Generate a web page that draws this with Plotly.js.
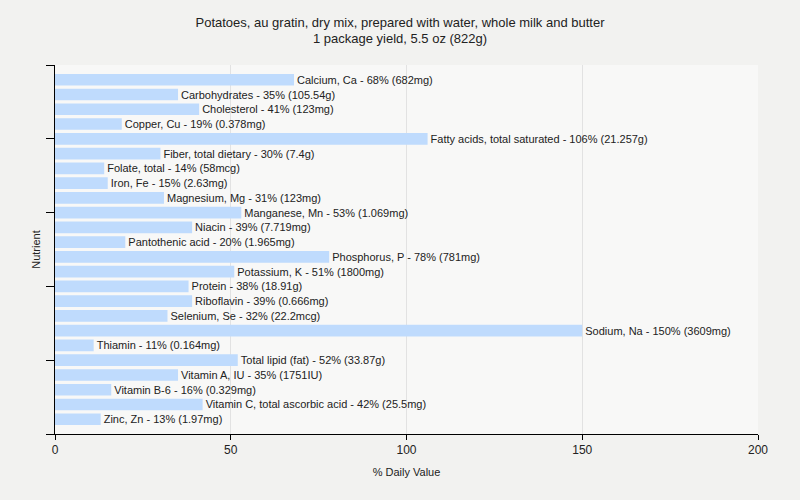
<!DOCTYPE html>
<html>
<head>
<meta charset="utf-8">
<script src="https://cdn.plot.ly/plotly-3.0.1.min.js"></script>
<style>html,body{margin:0;padding:0;background:#f2f2f0;}#chart{width:800px;height:500px;}</style>
</head>
<body>
<div id="chart"></div>
<script>
const nutrients = ["Calcium, Ca","Carbohydrates","Cholesterol","Copper, Cu","Fatty acids, total saturated","Fiber, total dietary","Folate, total","Iron, Fe","Magnesium, Mg","Manganese, Mn","Niacin","Pantothenic acid","Phosphorus, P","Potassium, K","Protein","Riboflavin","Selenium, Se","Sodium, Na","Thiamin","Total lipid (fat)","Vitamin A, IU","Vitamin B-6","Vitamin C, total ascorbic acid","Zinc, Zn"];
const dailyValue = [68,35,41,19,106,30,14,15,31,53,39,20,78,51,38,39,32,150,11,52,35,16,42,13];
const amounts = ["682mg","105.54g","123mg","0.378mg","21.257g","7.4g","58mcg","2.63mg","123mg","1.069mg","7.719mg","1.965mg","781mg","1800mg","18.91g","0.666mg","22.2mcg","3609mg","0.164mg","33.87g","1751IU","0.329mg","25.5mg","1.97mg"];
const xTicks = [0,50,100,150,200];

const positions = nutrients.map((n,i)=>i+1);
const labels = nutrients.map((n,i)=>n+" - "+dailyValue[i]+"% ("+amounts[i]+")");

const trace = {
  type:'bar', orientation:'h',
  x: dailyValue, y: positions,
  text: labels, textposition:'outside', cliponaxis:false, constraintext:'none',
  textfont:{family:'Liberation Sans, Arial, sans-serif', size:11, color:'#222'},
  marker:{color:'#bfdbfd', line:{width:0}},
  width:0.79, hoverinfo:'none'
};

const layout = {
  width:800, height:500,
  paper_bgcolor:'#f2f2f0', plot_bgcolor:'#f8f8f7',
  margin:{l:55, r:42, t:65, b:66},
  showlegend:false,
  title:{text:"Potatoes, au gratin, dry mix, prepared with water, whole milk and butter<br>1 package yield, 5.5 oz (822g)", x:0.5, xanchor:'center', y:0.947, yanchor:'top', font:{family:'Liberation Sans, Arial, sans-serif', size:13, color:'#222'}},
  xaxis:{range:[0,200], tickvals:xTicks, ticktext:xTicks.map(String), ticks:'outside', ticklen:5, tickcolor:'#000',
    showline:true, linecolor:'#000', linewidth:1, showgrid:true, gridcolor:'#e2e2e2', zeroline:false,
    tickfont:{family:'Liberation Sans, Arial, sans-serif', size:12, color:'#222'},
    title:{text:'% Daily Value', font:{family:'Liberation Sans, Arial, sans-serif', size:11, color:'#222'}, standoff:11}},
  yaxis:{range:[25,0], tickvals:[0,5,10,15,20,25], ticktext:['','','','','',''], ticks:'outside', ticklen:8, tickcolor:'#000',
    showline:true, linecolor:'#000', linewidth:1, showgrid:false, zeroline:false,
    title:{text:'Nutrient', font:{family:'Liberation Sans, Arial, sans-serif', size:11, color:'#222'}, standoff:0}}
};

Plotly.newPlot('chart',[trace],layout,{displayModeBar:false, staticPlot:true});
</script>
</body>
</html>
